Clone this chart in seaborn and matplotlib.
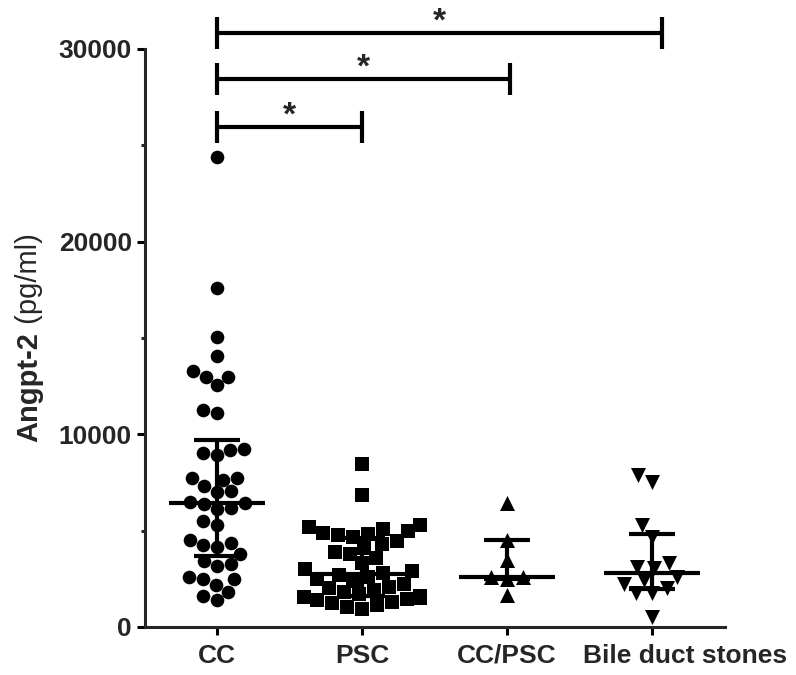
import numpy as np
import pandas as pd
import matplotlib
matplotlib.use("Agg")
import matplotlib.pyplot as plt
from matplotlib.ticker import MultipleLocator
from matplotlib.transforms import ScaledTranslation
import seaborn as sns

# ---------------- data ----------------
groups = ["CC", "PSC", "CC/PSC", "Bile duct stones"]
markers = ["o", "s", "^", "v"]

cc = [1400, 1610, 1830, 2180, 2470, 2470, 2610, 3160, 3260, 3400, 3800,
      4160, 4250, 4370, 4510, 5280, 5510, 6110, 6160, 6370, 6420, 6490,
      7010, 7060, 7300, 7650, 7720, 7720, 8910, 9030, 9200, 9220, 11090,
      11240, 12540, 13000, 13000, 13310, 14040, 15040, 17610, 24370]
psc = [950, 1050, 1150, 1250, 1300, 1400, 1450, 1500, 1550, 1600,
       1700, 1800, 1900, 2000, 2100, 2250, 2400, 2500, 2600, 2700,
       2800, 2900, 3000, 3300, 3600, 3800, 3900, 4100, 4300, 4450,
       4650, 4750, 4850, 4900, 5000, 5100, 5200, 5300, 6850, 8450]
cc_psc = [1660, 2490, 2610, 2610, 3470, 4510, 6440]
bds = [530, 1750, 1750, 2050, 2230, 2430, 2610, 3040, 3120, 3330,
       4680, 5280, 7530, 7870]
series = [cc, psc, cc_psc, bds]

yticks = [0, 10000, 20000, 30000]
comparisons = [(0, 1), (0, 2), (0, 3)]
bracket_y = [25950, 28440, 30820]
sig_labels = ["*", "*", "*"]

# ---------------- style ----------------
sns.set_style("ticks")
plt.rcParams["font.family"] = ["Liberation Sans", "DejaVu Sans"]
plt.rcParams["axes.linewidth"] = 2.2

df = pd.DataFrame({
    "group": np.repeat(groups, [len(s) for s in series]),
    "value": np.concatenate([np.asarray(s, float) for s in series]),
})

W, H = 796, 675
fig = plt.figure(figsize=(W / 100, H / 100), dpi=100)
ax = fig.add_axes([144.5 / W, (H - 627) / H, 580 / W, (627 - 49) / H])

sizes = [9.8, 10.6, 10.8, 10.8]
for g, m, s in zip(groups, markers, sizes):
    sns.swarmplot(data=df[df["group"] == g], x="group", y="value",
                  order=groups, marker=m, size=s, color="black",
                  linewidth=0, ax=ax, zorder=2)

# median with interquartile range
lw = 3.0
for i, vals in enumerate(series):
    q1, med, q3 = np.percentile(vals, [25, 50, 75], method="weibull")
    ax.vlines(i, q1, q3, color="black", lw=lw, zorder=4, capstyle="butt")
    ax.hlines(med, i - 0.33, i + 0.33, color="black", lw=lw, zorder=4)
    ax.hlines([q1, q3], i - 0.16, i + 0.16, color="black", lw=lw, zorder=4)

# significance brackets
end_pad = [0.0, 0.02, 0.07]
half = 830
for (a, b), y, lab, p in zip(comparisons, bracket_y, sig_labels, end_pad):
    b2 = b + p
    ax.plot([a, b2], [y, y], color="black", lw=lw, clip_on=False,
            solid_capstyle="butt")
    ax.vlines([a, b2], y - half, y + half, color="black", lw=lw,
              clip_on=False)
    ax.text((a + b2) / 2, y + 150, lab, ha="center", va="baseline",
            fontsize=24, fontweight="bold")

ax.set_xlim(-0.5, 3.5)
ax.set_ylim(0, 30000)
ax.set_yticks(yticks)
ax.yaxis.set_minor_locator(MultipleLocator(5000))
ax.set_yticklabels([str(t) for t in yticks])
ax.set_xlabel("")
ax.set_ylabel("")
sns.despine(ax=ax)

ax.tick_params(axis="both", which="major", length=6, width=2.2,
               labelsize=19, color="black")
ax.tick_params(axis="y", which="minor", length=3, width=2.2)
ax.tick_params(axis="y", pad=3)
ax.tick_params(axis="x", pad=6)
for t in ax.get_xticklabels() + ax.get_yticklabels():
    t.set_fontweight("bold")

# shift the long last category label right so it does not collide
xlabels = ax.get_xticklabels()
last = xlabels[-1]
last.set_transform(last.get_transform() +
                   ScaledTranslation(33 / 100, 0, fig.dpi_scale_trans))

# y label: bold "Angpt-2" + regular "(pg/ml)"
fig.canvas.draw()
r = fig.canvas.get_renderer()
t1 = fig.text(0, 0, "Angpt-2", rotation=90, rotation_mode="anchor",
              ha="left", va="baseline", fontsize=21, fontweight="bold")
t2 = fig.text(0, 0, " (pg/ml)", rotation=90, rotation_mode="anchor",
              ha="left", va="baseline", fontsize=21, fontweight="normal")
L1 = t1.get_window_extent(r).height
L2 = t2.get_window_extent(r).height
cy = ax.transAxes.transform((0, 0.5))[1]
start = cy - (L1 + L2) / 2
xb = 37
inv = fig.transFigure.inverted()
t1.set_position(inv.transform((xb, start)))
t2.set_position(inv.transform((xb, start + L1)))

fig.savefig("out.png", dpi=100, facecolor="white")
